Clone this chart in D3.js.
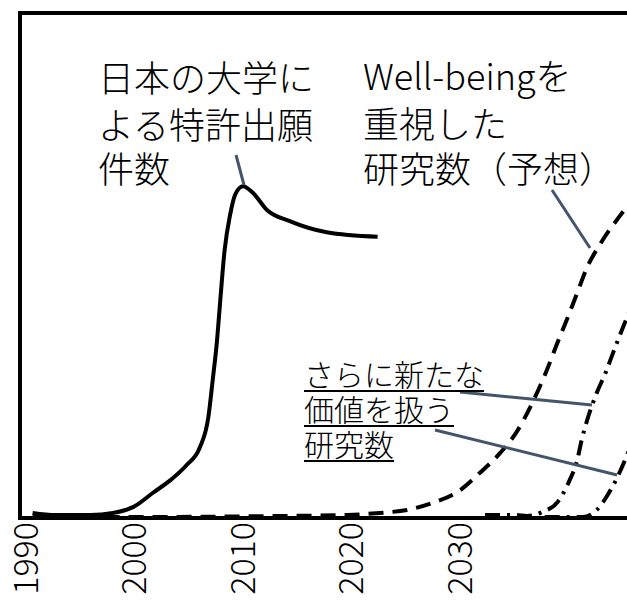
<!DOCTYPE html>
<html>
<head>
<meta charset="utf-8">
<script src="https://cdn.jsdelivr.net/npm/d3@7"></script>
<style>
  body { margin: 0; background: #fff; }
  text { font-family: "Noto Sans CJK JP", "Noto Sans", sans-serif; font-weight: 300; }
</style>
</head>
<body>
<svg id="chart" width="627" height="602"></svg>
<script>
// tick labels
var yearTicks = [1990, 2000, 2010, 2020, 2030];

// 日本の大学による特許出願件数 (solid)
var patentYears  = [1990.7, 1992.8, 1996.0, 1998.1, 2000.0, 2001.8, 2003.4, 2004.9, 2006.1, 2006.9, 2007.3, 2007.7, 2008.0, 2008.4, 2008.9, 2009.4, 2010.1, 2011.0, 2012.3, 2014.4, 2017.8, 2022.5];
var patentValues = [1.0, 0.6, 0.6, 1.0, 2.2, 5.0, 7.5, 10.5, 13.9, 20.0, 27.3, 35.2, 43.2, 53.1, 60.0, 64.2, 65.7, 64.4, 61.0, 58.8, 56.6, 55.7];

// Well-beingを重視した研究数（予想） (dashed)
var wellYears  = [1990.7, 2001.5, 2013.5, 2019.7, 2022.7, 2025.2, 2027.6, 2030.1, 2031.9, 2033.8, 2035.3, 2036.8, 2038.1, 2039.0, 2040.0, 2040.9, 2041.8, 2043.0, 2045.1, 2046.7];
var wellValues = [0.4, 0.2, 0.4, 0.6, 1.0, 1.6, 3.0, 5.5, 8.9, 12.9, 17.0, 23.0, 29.3, 34.3, 39.6, 44.6, 49.6, 54.2, 60.6, 65.0];

// さらに新たな価値を扱う研究数 (dash-dot, two curves)
var newAYears  = [2032.4, 2035.2, 2036.3, 2037.7, 2039.1, 2040.2, 2040.9, 2041.3, 2041.9, 2042.7, 2043.5, 2044.2, 2045.5, 2046.2];
var newAValues = [0.6, 0.6, 0.4, 1.2, 3.2, 7.5, 11.5, 15.4, 20.0, 24.8, 28.7, 32.7, 39.8, 43.2];
var newBYears  = [2037.9, 2041.4, 2042.7, 2043.6, 2044.6, 2045.5, 2046.4];
var newBValues = [0.2, 0.2, 1.6, 4.2, 8.1, 12.5, 17.4];

var svg = d3.select("#chart");

// scales
var x = d3.scaleLinear().domain([1990, 2030]).range([25, 459]);
var y = d3.scaleLinear().domain([0, 100]).range([518, 13]);

function zip(xs, vs) {
    return xs.map(function(d, i) { return {year: d, value: vs[i]}; });
}

var line = d3.line()
    .x(function(d) { return x(d.year); })
    .y(function(d) { return y(d.value); })
    .curve(d3.curveMonotoneX);

// frame
svg.append("rect")
    .attr("x", 20)
    .attr("y", 13)
    .attr("width", 700)
    .attr("height", 505)
    .attr("fill", "none")
    .attr("stroke", "#000")
    .attr("stroke-width", 4);

// x axis (labels only, rotated)
var xAxis = d3.axisBottom(x).tickValues(yearTicks).tickSize(0).tickFormat(d3.format("d"));
var xg = svg.append("g")
    .attr("transform", "translate(0,518)")
    .call(xAxis);
xg.select(".domain").remove();
xg.selectAll("text")
    .attr("transform", "rotate(-90)")
    .attr("x", -4)
    .attr("y", 0)
    .attr("dy", "0.36em")
    .attr("text-anchor", "end")
    .attr("font-size", 34)
    .attr("fill", "#000")
    .style("font-family", '"Noto Sans CJK JP", sans-serif')
    .style("font-weight", 300);

// data lines
svg.append("path")
    .datum(zip(patentYears, patentValues))
    .attr("d", line)
    .attr("fill", "none")
    .attr("stroke", "#000")
    .attr("stroke-width", 4);

svg.append("path")
    .datum(zip(wellYears, wellValues))
    .attr("d", line)
    .attr("fill", "none")
    .attr("stroke", "#000")
    .attr("stroke-width", 4)
    .attr("stroke-dasharray", "15,9");

[zip(newAYears, newAValues), zip(newBYears, newBValues)].forEach(function(series) {
    svg.append("path")
        .datum(series)
        .attr("d", line)
        .attr("fill", "none")
        .attr("stroke", "#000")
        .attr("stroke-width", 4)
        .attr("stroke-dasharray", "15,7,3,7");
});

// leader lines
var leaders = [
    [236, 155, 244, 185],
    [552, 190, 590, 248],
    [460, 392, 592, 405],
    [435, 430, 617, 475]
];
leaders.forEach(function(l) {
    svg.append("line")
        .attr("x1", l[0]).attr("y1", l[1])
        .attr("x2", l[2]).attr("y2", l[3])
        .attr("stroke", "#44546a")
        .attr("stroke-width", 3);
});

// annotations
function block(lines, px, baselines, size, underline) {
    lines.forEach(function(t, i) {
        var txt = svg.append("text")
            .attr("x", px)
            .attr("y", baselines[i])
            .attr("font-size", size)
            .attr("fill", "#000")
            .text(t);
        if (underline) {
            var w = txt.node().getComputedTextLength();
            svg.append("line")
                .attr("x1", px).attr("x2", px + w)
                .attr("y1", baselines[i] + 5).attr("y2", baselines[i] + 5)
                .attr("stroke", "#000")
                .attr("stroke-width", 2);
        }
    });
}

block(["日本の大学に", "よる特許出願", "件数"], 98, [92, 139, 183], 36, false);
block(["Well-beingを", "重視した", "研究数（予想）"], 363, [90, 138, 183], 36, false);
block(["さらに新たな", "価値を扱う", "研究数"], 304, [386, 421, 456], 30, true);
</script>
</body>
</html>
